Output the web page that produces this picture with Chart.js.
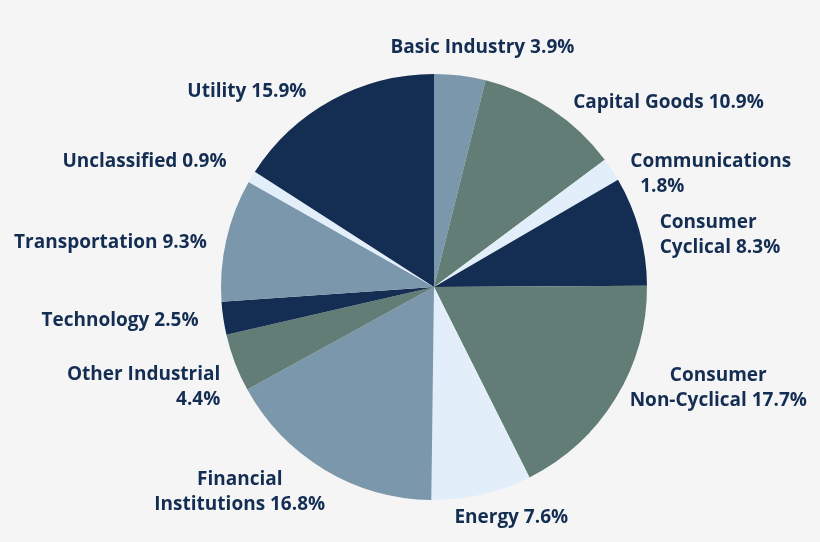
<!DOCTYPE html>
<html>
<head>
<meta charset="utf-8">
<script src="https://cdn.jsdelivr.net/npm/chart.js@4"></script>
<style>
  html, body { margin: 0; padding: 0; background: #f5f5f5; }
  #ctx { display: block; }
</style>
</head>
<body>
<canvas id="ctx" width="820" height="542"></canvas>
<script>
const $chart = document.getElementById('ctx')

// sectors, clockwise from 12 o'clock
const sectors = ['Basic Industry', 'Capital Goods', 'Communications', 'Consumer Cyclical',
  'Consumer Non-Cyclical', 'Energy', 'Financial Institutions', 'Other Industrial',
  'Technology', 'Transportation', 'Unclassified', 'Utility']
const shares = [3.9, 10.9, 1.8, 8.3, 17.7, 7.6, 16.8, 4.4, 2.5, 9.3, 0.9, 15.9]
// how each label is broken on the chart
const labelLines = [
  ['Basic Industry 3.9%'],
  ['Capital Goods 10.9%'],
  ['Communications', '  1.8%'],
  ['Consumer', 'Cyclical 8.3%'],
  ['Consumer', 'Non-Cyclical 17.7%'],
  ['Energy 7.6%'],
  ['Financial', 'Institutions 16.8%'],
  ['Other Industrial', '4.4%'],
  ['Technology 2.5%'],
  ['Transportation 9.3%'],
  ['Unclassified 0.9%'],
  ['Utility 15.9%']
]

const navy = '#142d52'
const steel = '#7b97ac'
const sage = '#627d76'
const pale = '#e2eefa'
const sliceColors = [steel, sage, pale, navy, sage, pale, steel, sage, navy, steel, pale, navy]

const fillChart = {
  id: 'customCanvasBackgroundColor',
  beforeDraw: (chart) => {
    const {ctx} = chart
    ctx.save()
    ctx.globalCompositeOperation = 'destination-over'
    ctx.fillStyle = '#f5f5f5'
    ctx.fillRect(0, 0, chart.width, chart.height)
    ctx.restore()
  }
}

// outside labels placed from each arc's middle angle
const outsideLabels = {
  id: 'outsideLabels',
  afterDatasetsDraw: (chart, args, opts) => {
    const {ctx} = chart
    const meta = chart.getDatasetMeta(0)
    const lh = opts.lineHeight
    ctx.save()
    ctx.fillStyle = opts.color
    ctx.font = opts.font
    ctx.textAlign = 'left'
    ctx.textBaseline = 'middle'
    meta.data.forEach((arc, i) => {
      const {x, y, startAngle, endAngle, outerRadius} = arc.getProps(['x', 'y', 'startAngle', 'endAngle', 'outerRadius'], true)
      const mid = (startAngle + endAngle) / 2
      const r = outerRadius + opts.offset
      const dx = Math.cos(mid), dy = Math.sin(mid)
      const nudge = opts.nudge[i] || [0, 0]
      const px = x + dx * r + nudge[0]
      const py = y + dy * r + nudge[1]
      const lines = labelLines[i]
      const widths = lines.map(t => ctx.measureText(t).width)
      const blockW = Math.max(...widths)

      let side = 'center'
      if (dx > 0.3) side = 'left'
      else if (dx < -0.3) side = 'right'
      const bx = side === 'left' ? px : side === 'right' ? px - blockW : px - blockW / 2
      // lower labels that are not straight out to the side get centred lines
      const centred = lines.length > 1 && dy > 0.3 && Math.abs(dx) < 0.9

      lines.forEach((t, k) => {
        let lx = bx
        if (centred || side === 'center') lx = bx + (blockW - widths[k]) / 2
        else if (side === 'right') lx = bx + blockW - widths[k]
        ctx.fillText(t, lx, py + k * lh)
      })
    })
    ctx.restore()
  }
}

const data = {
  labels: sectors,
  datasets: [{
    data: shares,
    backgroundColor: sliceColors,
    borderWidth: 0
  }]
}

const options = {
  type: 'pie',
  data: data,
  options: {
    responsive: false,
    animation: false,
    layout: {
      padding: {top: 74, bottom: 42, left: 48, right: 0}
    },
    plugins: {
      legend: {display: false},
      tooltip: {enabled: false},
      outsideLabels: {
        color: navy,
        font: 'bold 19px "Open Sans", sans-serif',
        lineHeight: 25,
        offset: 20,
        // small hand tweaks so labels sit where the original put them
        nudge: [[20, -8], [10, 10], [2, 3], [1, -3], [-3, -33], [25, 4],
                [11, -7], [4, 5], [-5, -1], [0, 7], [-8, -5], [-16, 9]]
      }
    }
  },
  plugins: [fillChart, outsideLabels]
}

var chart = new Chart($chart, options)
</script>
</body>
</html>
